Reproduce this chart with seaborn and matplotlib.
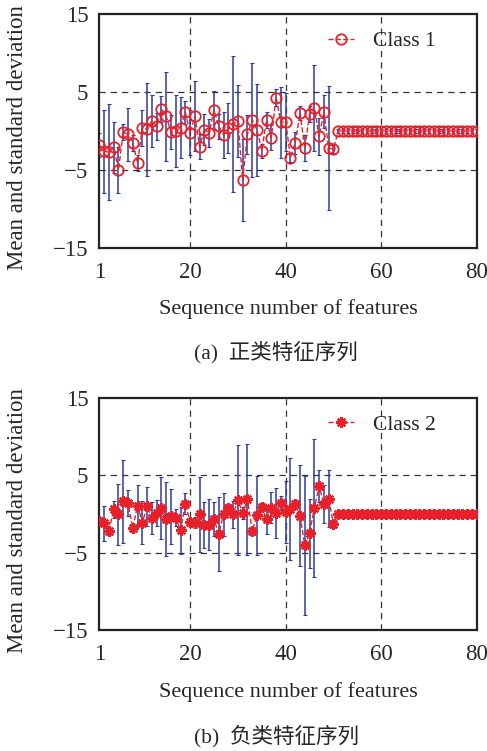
import numpy as np
import pandas as pd
import matplotlib
matplotlib.use("Agg")
import matplotlib.pyplot as plt
import seaborn as sns

# ---------------- data ----------------
features = list(range(1, 81))

class1_mean = [-1.8, -2.6, -2.7, -2.1, -5.0, -0.15, -0.4, -1.5, -4.1, 0.4,
               0.2, 1.3, 0.6, 2.8, 1.9, -0.15, 0.0, 0.45, 2.4, -0.2,
               1.9, -2.0, 0.15, -0.2, 2.7, 0.6, -0.5, 0.35, 0.9, 1.3,
               -6.3, -0.4, 1.4, 0.15, -2.5, 1.4, -0.85, 4.3, 1.1, 1.2,
               -3.4, -1.5, 2.3, -2.2, 2.2, 3.0, -0.7, 2.5, -2.2, -2.3] + [0.0] * 30
class1_std = [1.5, 5.3, 6.2, 3.3, 3.0, 1.0, 3.4, 1.0, 1.0, 2.3,
              6.0, 3.3, 1.7, 1.7, 5.7, 2.2, 4.6, 3.9, 1.5, 2.9,
              4.5, 1.6, 2.0, 1.8, 2.5, 1.6, 3.0, 3.2, 8.7, 4.6,
              5.3, 2.5, 7.3, 5.9, 0.9, 1.0, 1.6, 1.1, 4.5, 3.7,
              0.6, 1.4, 0.9, 1.7, 1.0, 5.5, 2.4, 2.1, 8.0, 0.5] + [0.2] * 30

class2_mean = [-0.9, -1.2, -2.2, 0.6, -0.05, 1.65, 1.4, -1.8, 1.1, -1.1,
               1.0, -0.5, 0.15, 0.8, -0.6, -0.3, -0.5, -2.1, 1.35, -1.0,
               -1.1, -0.05, -1.4, -1.4, -0.7, -2.55, -0.05, 0.8, -0.05, 1.8,
               0.15, 1.9, -2.2, -0.15, 0.9, -0.7, 0.8, 0.15, 1.4, 0.25,
               0.65, 1.35, -0.2, -4.05, -2.5, 0.8, 3.6, 1.3, 2.0, -1.3] + [0.0] * 30
class2_std = [0.5, 2.3, 0.5, 1.1, 3.9, 5.4, 1.7, 0.5, 2.6, 2.8,
              2.5, 2.1, 1.7, 4.0, 4.8, 3.6, 1.1, 3.0, 1.4, 0.5,
              0.75, 4.8, 3.0, 3.3, 2.2, 4.8, 2.8, 0.5, 1.7, 7.1,
              0.8, 7.2, 0.5, 5.1, 0.5, 1.9, 2.0, 3.2, 0.9, 4.0,
              6.6, 0.5, 6.5, 9.0, 4.5, 8.9, 2.1, 2.4, 3.7, 0.5] + [0.25] * 30

xticks = [1, 20, 40, 60, 80]
yticks = [-15, -5, 5, 15]
ytick_labels = ["\u221215", "\u22125", "5", "15"]
labels = ["Class 1", "Class 2"]
captions = ["(a)  正类特征序列", "(b)  负类特征序列"]
xlabel = "Sequence number of features"
ylabel = "Mean and standard deviation"

# ---------------- style ----------------
sns.set_style("white")
plt.rcParams["font.family"] = ["Liberation Serif", "Noto Sans CJK SC"]

RED = "#e8202a"
BLUE = "#2e3c9c"
FS = 16

fig = plt.figure(figsize=(4.87, 7.51), dpi=100)
ax1 = fig.add_axes([0.204, 0.670, 0.775, 0.311])
ax2 = fig.add_axes([0.204, 0.161, 0.775, 0.309])

panels = [
    (ax1, class1_mean, class1_std, "o", 7.5, 1.3, labels[0], captions[0], 0.531),
    (ax2, class2_mean, class2_std, (8, 2, 0), 7.5, 1.7, labels[1], captions[1], 0.020),
]

for ax, mean, std, mk, ms, mew, lab, cap, capy in panels:
    df = pd.DataFrame({"feature": features, "mean": mean, "std": std})
    ax.errorbar(df["feature"], df["mean"], yerr=df["std"], fmt="none",
                ecolor=BLUE, elinewidth=1.1, capsize=1.5, capthick=0.8, zorder=2)
    sns.lineplot(data=df, x="feature", y="mean", ax=ax, color=RED,
                 linestyle="--", linewidth=1.0, marker=mk, markersize=ms,
                 markerfacecolor="none", markeredgecolor=RED,
                 markeredgewidth=mew, label=lab, zorder=3)
    ax.set_xlim(1, 80)
    ax.set_ylim(-15, 15)
    ax.set_xticks(xticks)
    ax.set_yticks(yticks)
    ax.set_yticklabels(ytick_labels)
    ax.tick_params(axis="both", labelsize=FS + 0.5, direction="in", length=0)
    ax.tick_params(axis="x", pad=10)
    ax.tick_params(axis="y", pad=8)
    for v in [20, 40, 60]:
        ax.axvline(v, color="#333333", linestyle=(0, (5, 4)), linewidth=0.9, zorder=1)
    for v in [-5, 5]:
        ax.axhline(v, color="#333333", linestyle=(0, (5, 4)), linewidth=0.9, zorder=1)
    for s in ax.spines.values():
        s.set_linewidth(1.6)
        s.set_color("#222222")
    ax.set_xlabel(xlabel, fontsize=FS, labelpad=12)
    ax.set_ylabel(ylabel, fontsize=FS + 0.5)
    ax.yaxis.set_label_coords(-0.19, 0.47)
    ax.legend(loc="center right", bbox_to_anchor=(0.92, 0.885),
              frameon=False, fontsize=FS - 0.5, handlelength=1.2,
              handletextpad=0.9, borderpad=0)
    fig.text(0.567, capy, cap, ha="center", va="center", fontsize=FS - 0.5)

fig.savefig("out.png", dpi=100)
